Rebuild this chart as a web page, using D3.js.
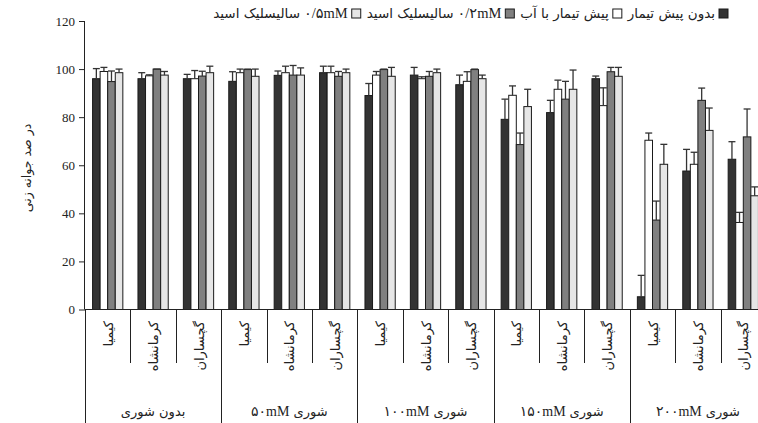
<!DOCTYPE html>
<html><head><meta charset="utf-8">
<script src="https://cdn.jsdelivr.net/npm/d3@7"></script>
<style>body{margin:0;background:#fff}svg{display:block}</style>
</head><body><svg id="c" width="758" height="423"></svg>
<script>
// visual left-to-right parts of each label
const salinity = [["بدون شوری"],["۵۰mM","شوری"],["۱۰۰mM","شوری"],["۱۵۰mM","شوری"],["۲۰۰mM","شوری"]];
const cultivars = ["کیمیا","کرمانشاه","گچساران"];
const seriesNames = [["بدون پیش تیمار"],["پیش تیمار با آب"],["سالیسلیک اسید","۰/۲mM"],["سالیسلیک اسید","۰/۵mM"]];
const noPretreat = [96,96,96, 94.9,97.4,98.5, 89,97.5,93.5, 79.1,81.9,96, 5.3,57.6,62.5];
const water      = [99,97.2,96, 98.5,98.5,98.5, 97.5,96,94.9, 89.1,91.6,84.8, 70.4,60.4,36.2];
const sa02       = [94.8,100,97.1, 99.8,97.5,97, 99.8,97,99.8, 68.6,87.5,98.9, 37.2,87,71.8];
const sa05       = [98.5,97.5,98.5, 97,97.5,98.5, 97,98.5,96, 84.4,91.6,97, 60.4,74.5,47.3];
const errNoPre   = [4.2,2.5,1.8, 4,1.8,2.7, 5,3.2,4, 8.4,5.1,1.1, 8.9,9,7.3];
const errWater   = [1.7,0.4,3.4, 1.5,2.7,2.7, 1.5,0.8,4, 3.9,3.8,7.4, 3,5,4.2];
const errSa02    = [4.4,0,2, 0.2,4,2, 0.2,2,0.2, 4.8,7.4,1.8, 7.9,5.1,11.6];
const errSa05    = [1.5,1.5,2.7, 3,3,1.5, 3.7,1.5,1.5, 7.2,8,3.7, 8.3,9.3,3.7];
const yTicks = [0,20,40,60,80,100,120];
const yTitle = "در صد جوانه زنی";

const colors = ["#333333","#ffffff","#808080","#e6e6e6"];
const values = [noPretreat, water, sa02, sa05];
const errors = [errNoPre, errWater, errSa02, errSa05];

const svg = d3.select("#c");
svg.append("rect").attr("width",758).attr("height",423).attr("fill","#fff");
const fontNum = "'Liberation Serif','DejaVu Serif','DejaVu Sans',serif";
const fontAr = "'DejaVu Sans',sans-serif";
const isNum = s => /mM/.test(s);

const groups = d3.range(15);
const x0 = d3.scaleBand().domain(groups).range([85, 766]).padding(0);
const gw = x0.bandwidth();
const x1 = d3.scaleBand().domain(d3.range(4)).range([gw/6, gw*5/6]).padding(0);
const y = d3.scaleLinear().domain([0,120]).range([309.5, 21]);

// y axis
const yAxis = svg.append("g").attr("transform","translate(85,0)")
  .call(d3.axisLeft(y).tickValues(yTicks).tickSize(6).tickPadding(4).tickFormat(d3.format("d")));
yAxis.select(".domain").attr("stroke","#222").attr("d","M-0.5,21V309.5");
yAxis.selectAll(".tick line").attr("stroke","#222");
yAxis.selectAll(".tick text").attr("font-family",fontNum).attr("font-size",13).attr("fill","#222");

svg.append("text").attr("transform","translate(31,168) rotate(-90)")
  .attr("text-anchor","middle").attr("font-family",fontAr)
  .attr("font-size",12.5).attr("fill","#222").text(yTitle);

// bars
const flat = [];
values.forEach((arr,s)=>arr.forEach((v,g)=>flat.push({s,g,v,e:errors[s][g]})));
svg.append("g").selectAll("rect").data(flat).join("rect")
  .attr("x",d=>x0(d.g)+x1(d.s)).attr("width",x1.bandwidth())
  .attr("y",d=>y(d.v)).attr("height",d=>y(0)-y(d.v))
  .attr("fill",d=>colors[d.s]).attr("stroke","#1a1a1a").attr("stroke-width",1);

// error bars
const eg = svg.append("g").attr("stroke","#333").attr("stroke-width",1.3);
flat.forEach(d=>{
  const cx = x0(d.g)+x1(d.s)+x1.bandwidth()/2;
  const hw = x1.bandwidth()/2 - 0.3;
  eg.append("line").attr("x1",cx).attr("x2",cx).attr("y1",y(d.v)).attr("y2",y(d.v+d.e));
  eg.append("line").attr("x1",cx-hw).attr("x2",cx+hw).attr("y1",y(d.v+d.e)).attr("y2",y(d.v+d.e));
});

// x axis
const xa = svg.append("g").attr("stroke","#222").attr("stroke-width",1);
xa.append("line").attr("x1",85).attr("x2",766).attr("y1",309.5).attr("y2",309.5);
groups.forEach(g=>{
  const xe = x0(g);
  const big = g%3===0;
  xa.append("line").attr("x1",Math.round(xe)+0.5).attr("x2",Math.round(xe)+0.5)
    .attr("y1",309.5).attr("y2",big?423:363);
});
xa.append("line").attr("x1",765.5).attr("x2",765.5).attr("y1",309.5).attr("y2",423);

// cultivar labels
svg.append("g").selectAll("text").data(groups).join("text")
  .attr("transform",g=>`translate(${x0(g)+gw/2+5},321) rotate(-90)`)
  .attr("text-anchor","end").attr("font-family",fontAr)
  .attr("font-size",13).attr("fill","#222")
  .text(g=>cultivars[g%3]);

// composite label: parts in visual left-to-right order
function drawParts(g, parts, xRight, yb, size, gap){
  const nodes = parts.map(p => g.append("text").attr("y",yb)
      .attr("font-family", isNum(p)?fontNum:fontAr).attr("font-size", isNum(p)?size+1:size)
      .attr("fill","#222").attr("text-anchor","start").text(p));
  const ws = nodes.map(n=>n.node().getComputedTextLength());
  const total = d3.sum(ws) + gap*(parts.length-1);
  let xl = xRight - total;
  nodes.forEach((n,i)=>{ n.attr("x",xl); xl += ws[i]+gap; });
  return total;
}

// salinity labels (centered)
salinity.forEach((parts,i)=>{
  const g = svg.append("g");
  const cx = x0(i*3)+gw*1.5;
  const w = drawParts(g, parts, 0, 416, 13, 4);
  g.attr("transform",`translate(${cx + w/2},0)`);
});

// legend (right to left)
const lg = svg.append("g");
let xr = 728;
seriesNames.forEach((parts,i)=>{
  lg.append("rect").attr("x",xr-9).attr("y",9).attr("width",9).attr("height",9)
    .attr("fill",colors[i]).attr("stroke","#1a1a1a");
  xr -= 13;
  const w = drawParts(lg, parts, xr, 18, 13.5, 4);
  xr -= w + 6;
});
</script></body></html>
